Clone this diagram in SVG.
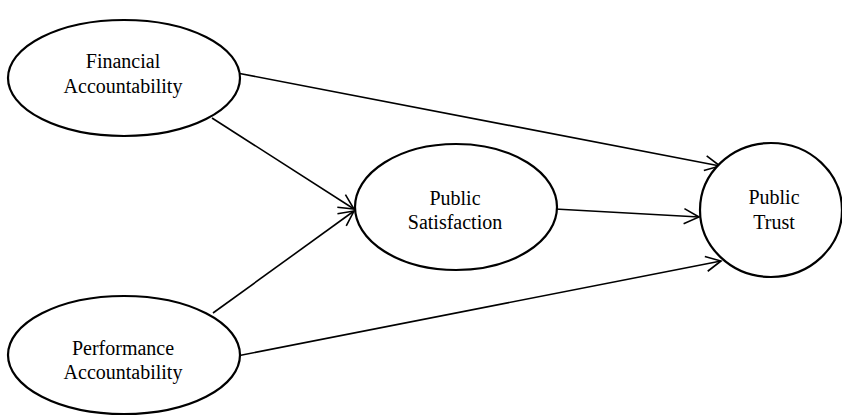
<svg xmlns="http://www.w3.org/2000/svg" width="842" height="416" viewBox="0 0 842 416">
<style>
.node ellipse{fill:#fff;stroke:#000;stroke-width:2.2}
.node text{font-family:"Liberation Serif","Times New Roman",serif;font-size:20px;fill:#000;text-anchor:middle}
.conn line{stroke:#000;stroke-width:1.6;fill:none;marker-end:url(#arr)}
</style>
<defs>
<marker id="arr" markerUnits="userSpaceOnUse" markerWidth="20" markerHeight="20" viewBox="-16 -10 20 20" refX="0" refY="0" orient="auto">
<path d="M-15,-7.5 L0,0 L-15,7.5" fill="none" stroke="#000" stroke-width="1.6"/>
</marker>
</defs>
<rect width="842" height="416" fill="#fff"/>
<g class="conn">
<line x1="237" y1="73" x2="720" y2="166"/>
<line x1="212" y1="118" x2="354" y2="209"/>
<line x1="213" y1="313" x2="354" y2="211"/>
<line x1="555" y1="209" x2="699" y2="217"/>
<line x1="237" y1="356" x2="721" y2="261"/>
</g>
<g id="financial" class="node">
<ellipse cx="124" cy="78" rx="116" ry="58"/>
<text x="123" y="68">Financial</text>
<text x="123" y="93">Accountability</text>
</g>
<g id="performance" class="node">
<ellipse cx="124" cy="355" rx="116" ry="59"/>
<text x="123" y="355">Performance</text>
<text x="123" y="379">Accountability</text>
</g>
<g id="satisfaction" class="node">
<ellipse cx="456" cy="207" rx="101" ry="63"/>
<text x="455" y="205">Public</text>
<text x="455" y="229">Satisfaction</text>
</g>
<g id="trust" class="node">
<ellipse cx="771" cy="210" rx="71" ry="67"/>
<text x="774" y="204">Public</text>
<text x="774" y="229">Trust</text>
</g>
</svg>
